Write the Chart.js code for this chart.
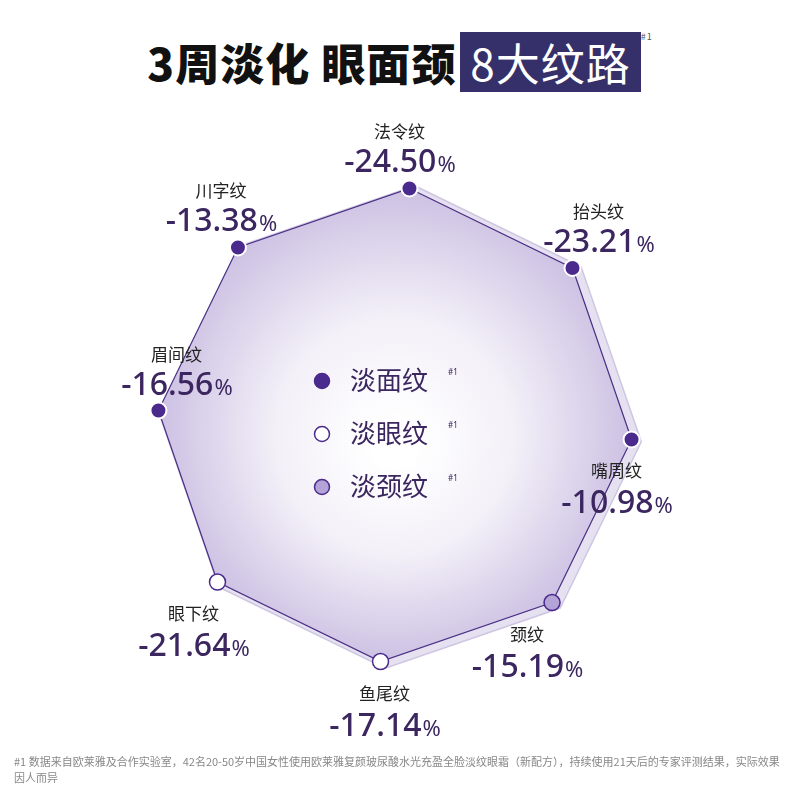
<!DOCTYPE html>
<html>
<head>
<meta charset="utf-8">
<script src="https://cdn.jsdelivr.net/npm/chart.js@4"></script>
<style>
  body { margin:0; width:800px; height:800px; background:#fff; font-family:"Noto Sans CJK SC","Noto Sans",sans-serif; position:relative; overflow:hidden; }
  #wrap { position:absolute; left:0; top:0; width:800px; height:800px; }
  .title { position:absolute; top:30px; left:0; width:800px; text-align:center; font-size:44px; font-weight:900; color:#111; letter-spacing:1px; }
  .title .box { display:inline-block; background:#35306a; color:#fff; font-weight:400; padding:0 10px; margin-left:4px; line-height:60px; }
  .title sup { font-size:9px; color:#555; vertical-align:top; font-weight:400; }
  .note { position:absolute; left:14px; top:753px; width:768px; font-size:11px; color:#888; line-height:16px; }
</style>
</head>
<body>
<div class="title">3周淡化 眼面颈<span class="box">8大纹路</span><sup>#1</sup></div>
<div id="wrap"><canvas id="radar" width="800" height="800"></canvas></div>
<div class="note">#1 数据来自欧莱雅及合作实验室，42名20-50岁中国女性使用欧莱雅复颜玻尿酸水光充盈全脸淡纹眼霜（新配方），持续使用21天后的专家评测结果，实际效果因人而异</div>
<script>
// clockwise from top
const zones = ['法令纹', '抬头纹', '嘴周纹', '颈纹', '鱼尾纹', '眼下纹', '眉间纹', '川字纹'];
const reductions = [-24.50, -23.21, -10.98, -15.19, -17.14, -21.64, -16.56, -13.38];
const groups = ['face', 'face', 'face', 'neck', 'eye', 'eye', 'face', 'face'];
const legendNames = { face: '淡面纹', eye: '淡眼纹', neck: '淡颈纹' };
// every zone sits on the same ring in the picture; value shown as label
const ring = zones.map(() => 1);

const fills = { face: '#4a2a8c', eye: '#ffffff', neck: '#b3a3d6' };
const labelAbove = [true, true, false, false, false, false, true, true];

const shadowPlugin = {
    id: 'shadow',
    beforeDatasetsDraw(chart) {
        const s = chart.scales.r, c = chart.ctx;
        c.save();
        c.beginPath();
        ring.forEach((v, i) => {
            const p = s.getPointPositionForValue(i, v * 1.02);
            const x = p.x + 5, y = p.y + 2;
            i ? c.lineTo(x, y) : c.moveTo(x, y);
        });
        c.closePath();
        c.fillStyle = 'rgba(205,196,228,0.5)';
        c.strokeStyle = '#cfc6e2';
        c.lineWidth = 1.5;
        c.fill(); c.stroke();
        c.restore();
    }
};

const labelPlugin = {
    id: 'labels',
    afterDatasetsDraw(chart) {
        const s = chart.scales.r, c = chart.ctx;
        c.save();
        c.textAlign = 'center';
        zones.forEach((z, i) => {
            const p = s.getPointPositionForValue(i, 1);
            let nameY, valY;
            if (labelAbove[i]) { nameY = p.y - 50; valY = p.y - 16; }
            else { nameY = p.y + 38; valY = p.y + 74; }
            let dx = 0;
            if (i === 0) dx = -10; if (i === 1) dx = 26; if (i === 7) dx = -17;
            if (i === 6) dx = 18; if (i === 2) dx = -15; if (i === 3) dx = -25;
            if (i === 5) dx = -24; if (i === 4) dx = 4;
            const cx = p.x + dx;
            c.font = '17px "Noto Sans CJK SC"';
            c.fillStyle = '#222';
            c.fillText(z, cx, nameY);
            const num = reductions[i].toFixed(2);
            c.font = '500 32px "Noto Sans"';
            const w1 = c.measureText(num).width;
            c.font = '22px "Noto Sans"';
            const w2 = c.measureText('%').width;
            const x0 = cx - (w1 + w2) / 2;
            c.textAlign = 'left';
            c.fillStyle = '#3b2660';
            c.font = '500 32px "Noto Sans"';
            c.fillText(num, x0, valY);
            c.font = '22px "Noto Sans"';
            c.fillText('%', x0 + w1 + 1, valY);
            c.textAlign = 'center';
        });
        // central legend
        ['face', 'eye', 'neck'].forEach((g, k) => {
            const y = 381 + k * 53;
            c.beginPath();
            c.arc(322, y, 7.5, 0, Math.PI * 2);
            c.fillStyle = fills[g];
            c.fill();
            c.lineWidth = 1.5;
            c.strokeStyle = '#4a2a8c';
            c.stroke();
            c.textAlign = 'left';
            c.fillStyle = '#3b2660';
            c.font = '26px "Noto Sans CJK SC"';
            c.fillText(legendNames[g], 350, y + 9);
            c.font = '8px "Noto Sans"';
            c.fillText('#1', 448, y - 6);
        });
        c.restore();
    }
};

new Chart(document.getElementById('radar'), {
    type: 'radar',
    data: {
        labels: zones,
        datasets: [{
            data: ring,
            borderColor: '#4a2f85',
            borderWidth: 1.2,
            backgroundColor: ctx => {
                const a = ctx.chart.chartArea;
                if (!a) return '#e8e2f3';
                const cx = (a.left + a.right) / 2, cy = (a.top + a.bottom) / 2;
                const g = ctx.chart.ctx.createRadialGradient(cx, cy + 20, 20, cx, cy, 240);
                g.addColorStop(0, '#ffffff');
                g.addColorStop(0.45, '#f3f0f8');
                g.addColorStop(1, '#cbbfe2');
                return g;
            },
            pointBackgroundColor: groups.map(g => fills[g]),
            pointBorderColor: groups.map(g => g === 'face' ? '#ffffff' : '#4a2a8c'),
            pointBorderWidth: groups.map(g => g === 'face' ? 2 : 1.5),
            pointRadius: 8,
            pointHoverRadius: 8
        }]
    },
    options: {
        responsive: false,
        animation: false,
        events: [],
        layout: { padding: { left: 0, right: 10, top: 188, bottom: 138 } },
        scales: {
            r: {
                startAngle: 3.5,
                min: 0, max: 1,
                grid: { display: false },
                angleLines: { display: false },
                ticks: { display: false },
                pointLabels: { display: false }
            }
        },
        plugins: { legend: { display: false }, tooltip: { enabled: false } }
    },
    plugins: [shadowPlugin, labelPlugin]
});
</script>
</body>
</html>
